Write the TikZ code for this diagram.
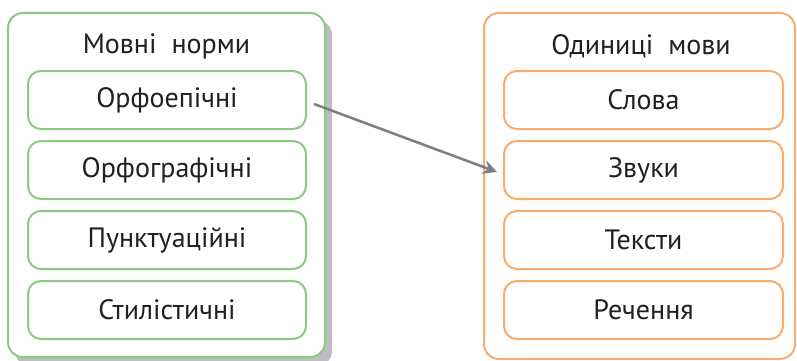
\documentclass[tikz,border=0pt]{standalone}
\usepackage{fontspec}
\setmainfont{PT Sans}
\usetikzlibrary{arrows.meta}
\definecolor{grn}{RGB}{140,202,132}
\definecolor{org}{RGB}{250,172,108}
\definecolor{shd}{RGB}{188,188,194}
\definecolor{arr}{RGB}{125,125,130}
\definecolor{txt}{RGB}{35,31,32}
\begin{document}
\begin{tikzpicture}[x=1pt,y=-1pt,
  outerbox/.style={rounded corners=15pt,line width=2pt,fill=white},
  innerbox/.style={rounded corners=13pt,line width=2pt,minimum width=278pt,minimum height=58pt,inner sep=0pt,anchor=north west,font=\fontsize{28}{32}\selectfont,text=txt},
  ttl/.style={font=\fontsize{28}{32}\selectfont,text=txt}]
\useasboundingbox (0,0) rectangle (797,361);
% left group
\fill[shd,rounded corners=15pt] (15,20) rectangle (332,366);
\draw[outerbox,draw=grn] (8,13) rectangle (325,357);
\node[ttl] (t1) at (166.5,46) {Мовні\ \ норми};
\node[innerbox,draw=grn] (l1) at (27,70) {Орфоепічні};
\node[innerbox,draw=grn] (l2) at (27,140) {Орфографічні};
\node[innerbox,draw=grn] (l3) at (27,210) {Пунктуаційні};
\node[innerbox,draw=grn] (l4) at (27,280) {Стилістичні};
% right group
\draw[outerbox,draw=org] (484,13) rectangle (795,359);
\node[ttl] (t2) at (641,46) {Одиниці\ \ мови};
\node[innerbox,draw=org,minimum width=279pt] (r1) at (503,70) {Слова};
\node[innerbox,draw=org,minimum width=279pt] (r2) at (503,140) {Звуки};
\node[innerbox,draw=org,minimum width=279pt] (r3) at (503,210) {Тексти};
\node[innerbox,draw=org,minimum width=279pt] (r4) at (503,280) {Речення};
% arrow
\coordinate (a0) at ([xshift=7pt,yshift=-4pt]l1.east);
\coordinate (a1) at ([xshift=-6pt,yshift=-2pt]r2.west);
\draw[arr,line width=2.5pt,-{Stealth[length=14pt,width=14pt,inset=5pt]}] (a0) -- (a1);
\end{tikzpicture}
\end{document}
